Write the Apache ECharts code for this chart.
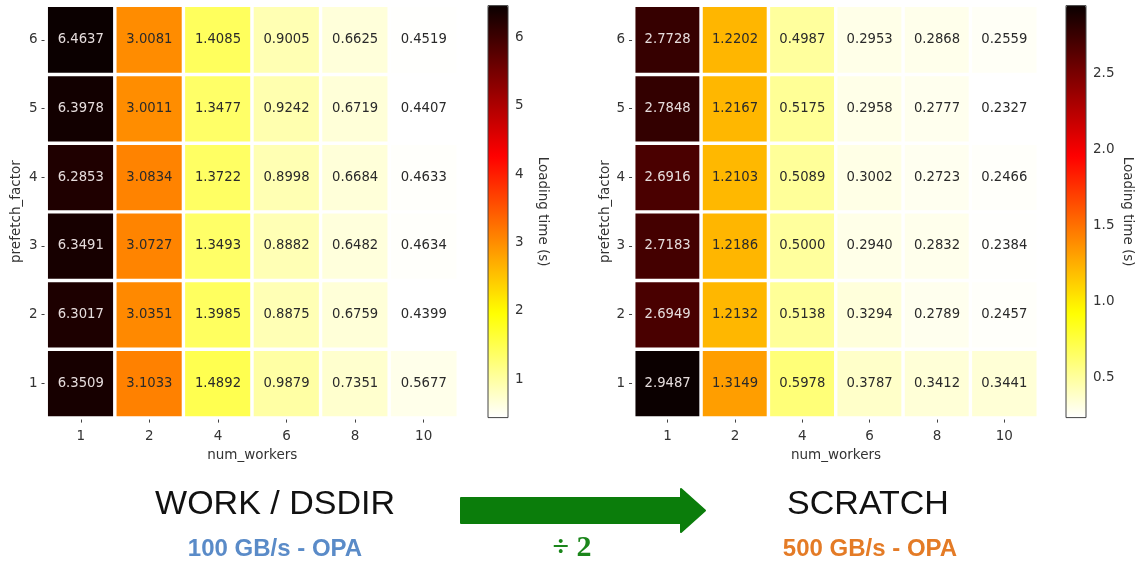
<!DOCTYPE html>
<html><head><meta charset="utf-8">
<script src="https://cdn.jsdelivr.net/npm/echarts@6/dist/echarts.min.js"></script>
<style>html,body{margin:0;padding:0;background:#fff}#c{width:1141px;height:563px}</style>
</head><body><div id="c"></div>
<script>
// ---- data ----
const numWorkers = ['1', '2', '4', '6', '8', '10'];
const prefetchFactors = ['1', '2', '3', '4', '5', '6'];
// rows = prefetch_factor 1..6 (bottom to top), columns = num_workers
const workDsdirTimes = [
  [6.3509, 3.1033, 1.4892, 0.9879, 0.7351, 0.5677],
  [6.3017, 3.0351, 1.3985, 0.8875, 0.6759, 0.4399],
  [6.3491, 3.0727, 1.3493, 0.8882, 0.6482, 0.4634],
  [6.2853, 3.0834, 1.3722, 0.8998, 0.6684, 0.4633],
  [6.3978, 3.0011, 1.3477, 0.9242, 0.6719, 0.4407],
  [6.4637, 3.0081, 1.4085, 0.9005, 0.6625, 0.4519]
];
const scratchTimes = [
  [2.9487, 1.3149, 0.5978, 0.3787, 0.3412, 0.3441],
  [2.6949, 1.2132, 0.5138, 0.3294, 0.2789, 0.2457],
  [2.7183, 1.2186, 0.5000, 0.2940, 0.2832, 0.2384],
  [2.6916, 1.2103, 0.5089, 0.3002, 0.2723, 0.2466],
  [2.7848, 1.2167, 0.5175, 0.2958, 0.2777, 0.2327],
  [2.7728, 1.2202, 0.4987, 0.2953, 0.2868, 0.2559]
];
const workTicks = [1, 2, 3, 4, 5, 6];
const scratchTicks = [0.5, 1.0, 1.5, 2.0, 2.5];

// ---- matplotlib "hot_r" colormap ----
function hot(x) {
  const r = x < 0.365079 ? 0.0416 + (1 - 0.0416) * x / 0.365079 : 1;
  const g = x < 0.365079 ? 0 : (x < 0.746032 ? (x - 0.365079) / (0.746032 - 0.365079) : 1);
  const b = x < 0.746032 ? 0 : (x - 0.746032) / (1 - 0.746032);
  return [r, g, b];
}
function hotR(t) { return hot(1 - Math.max(0, Math.min(1, t))); }
function toHex(c) {
  return '#' + c.map(v => Math.round(v * 255).toString(16).padStart(2, '0')).join('');
}
const hotRColors = [];
for (let i = 0; i <= 200; i++) hotRColors.push(toHex(hotR(i / 200)));

function lum(c) {
  const lin = c.map(v => v <= 0.03928 ? v / 12.92 : Math.pow((v + 0.055) / 1.055, 2.4));
  return 0.2126 * lin[0] + 0.7152 * lin[1] + 0.0722 * lin[2];
}

function buildData(matrix) {
  const flat = matrix.flat();
  const mn = Math.min(...flat), mx = Math.max(...flat);
  const data = [];
  matrix.forEach((row, r) => row.forEach((v, c) => {
    const col = hotR((v - mn) / (mx - mn));
    data.push({ value: [c, r, v], label: { color: lum(col) < 0.2 ? '#e6dcdc' : '#2a2a2a' } });
  }));
  return { data, mn, mx };
}
const L = buildData(workDsdirTimes);
const R = buildData(scratchTimes);

const FONT = 'DejaVu Sans';
const FS = 13.5;
const GRID_TOP = 5.6, GRID_H = 412;

function catX(gi, gap) {
  return {
    type: 'category', gridIndex: gi, data: numWorkers,
    name: 'num_workers', nameLocation: 'middle', nameGap: gap,
    nameTextStyle: { fontFamily: FONT, fontSize: FS, color: '#333' },
    axisLine: { show: false },
    axisTick: { show: true, alignWithLabel: true, length: 5, lineStyle: { color: '#444' } },
    axisLabel: { fontFamily: FONT, fontSize: FS, color: '#333', margin: 12 },
    splitLine: { show: false }
  };
}
function catY(gi, gap) {
  return {
    type: 'category', gridIndex: gi, data: prefetchFactors,
    name: 'prefetch_factor', nameLocation: 'middle', nameGap: gap,
    nameTextStyle: { fontFamily: FONT, fontSize: FS, color: '#333' },
    axisLine: { show: false },
    axisTick: { show: true, alignWithLabel: true, length: 5, lineStyle: { color: '#444' } },
    axisLabel: { fontFamily: FONT, fontSize: FS, color: '#333', margin: 9 },
    splitLine: { show: false }
  };
}
function cbY(gi, mn, mx, ticks, fmt, gap) {
  return {
    type: 'value', gridIndex: gi, min: mn, max: mx, position: 'right',
    name: 'Loading time (s)', nameLocation: 'middle', nameGap: gap, nameRotate: -90,
    nameTextStyle: { fontFamily: FONT, fontSize: FS, color: '#333' },
    axisLine: { show: false },
    axisTick: { show: true, length: 4, customValues: ticks, lineStyle: { color: '#444' } },
    axisLabel: { show: true, customValues: ticks, formatter: fmt, fontFamily: FONT, fontSize: FS, color: '#333', margin: 7 },
    splitLine: { show: false }
  };
}

const option = {
  animation: false,
  backgroundColor: '#fff',
  grid: [
    { left: 46.5, top: GRID_TOP, width: 411.5, height: GRID_H },
    { left: 634, top: GRID_TOP, width: 404, height: GRID_H },
    { left: 488, top: GRID_TOP, width: 20, height: GRID_H, show: true, borderColor: '#444', borderWidth: 1, backgroundColor: 'transparent', z: 10 },
    { left: 1066, top: GRID_TOP, width: 20, height: GRID_H, show: true, borderColor: '#444', borderWidth: 1, backgroundColor: 'transparent', z: 10 }
  ],
  xAxis: [
    catX(0, 30), catX(1, 30),
    { type: 'value', gridIndex: 2, show: false },
    { type: 'value', gridIndex: 3, show: false }
  ],
  yAxis: [
    catY(0, 23), catY(1, 21),
    cbY(2, L.mn, L.mx, workTicks, v => String(v), 27),
    cbY(3, R.mn, R.mx, scratchTicks, v => Number(v).toFixed(1), 34)
  ],
  visualMap: [
    { type: 'continuous', seriesIndex: 0, min: L.mn, max: L.mx, left: 488, top: GRID_TOP,
      itemWidth: 20, itemHeight: GRID_H, padding: 0, calculable: false, hoverLink: false,
      inRange: { color: hotRColors } },
    { type: 'continuous', seriesIndex: 1, min: R.mn, max: R.mx, left: 1066, top: GRID_TOP,
      itemWidth: 20, itemHeight: GRID_H, padding: 0, calculable: false, hoverLink: false,
      inRange: { color: hotRColors } }
  ],
  series: [
    { type: 'heatmap', xAxisIndex: 0, yAxisIndex: 0, data: L.data,
      itemStyle: { borderColor: '#fff', borderWidth: 3.4 },
      label: { show: true, fontFamily: FONT, fontSize: 13.2, formatter: p => p.value[2].toFixed(4) },
      emphasis: { disabled: true } },
    { type: 'heatmap', xAxisIndex: 1, yAxisIndex: 1, data: R.data,
      itemStyle: { borderColor: '#fff', borderWidth: 3.4 },
      label: { show: true, fontFamily: FONT, fontSize: 13.2, formatter: p => p.value[2].toFixed(4) },
      emphasis: { disabled: true } }
  ],
  graphic: [
    { type: 'polygon', z: 100,
      shape: { points: [[461, 498], [681, 498], [681, 489], [705, 510.5], [681, 532], [681, 523], [461, 523]] },
      style: { fill: '#0b7d0b', stroke: '#0b7d0b', lineWidth: 2, lineJoin: 'round' } },
    { type: 'text', x: 275, y: 505, z: 100,
      style: { text: 'WORK / DSDIR', fontFamily: 'Liberation Sans', fontSize: 34, fill: '#111', align: 'center', verticalAlign: 'middle' } },
    { type: 'text', x: 275, y: 549, z: 100,
      style: { text: '100 GB/s - OPA', fontFamily: 'Liberation Sans', fontWeight: 'bold', fontSize: 24, fill: '#5a8bc8', align: 'center', verticalAlign: 'middle' } },
    { type: 'text', x: 868, y: 505, z: 100,
      style: { text: 'SCRATCH', fontFamily: 'Liberation Sans', fontSize: 34, fill: '#111', align: 'center', verticalAlign: 'middle' } },
    { type: 'text', x: 870, y: 549, z: 100,
      style: { text: '500 GB/s - OPA', fontFamily: 'Liberation Sans', fontWeight: 'bold', fontSize: 24, fill: '#e47b26', align: 'center', verticalAlign: 'middle' } },
    { type: 'text', x: 572, y: 548, z: 100,
      style: { text: '÷ 2', fontFamily: 'Liberation Serif', fontWeight: 'bold', fontSize: 30, fill: '#1b861b', align: 'center', verticalAlign: 'middle' } }
  ]
};
const chart = echarts.init(document.getElementById('c'), null, { renderer: 'canvas' });
chart.setOption(option);
</script>
</body></html>
